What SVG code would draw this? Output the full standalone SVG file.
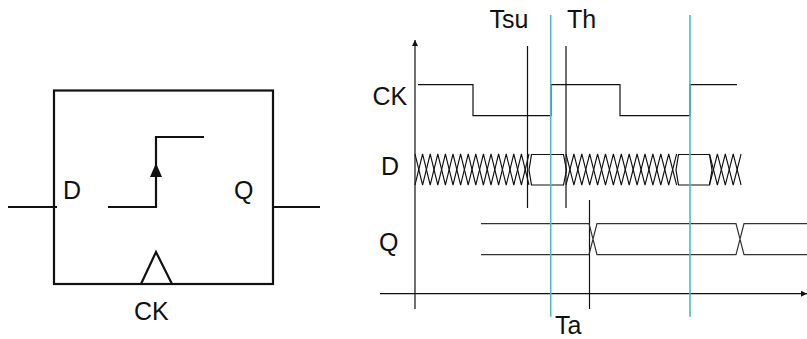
<svg xmlns="http://www.w3.org/2000/svg" width="807" height="339" viewBox="0 0 807 339">
<style>
text{font-family:"Liberation Sans",Arial,sans-serif;font-size:25px;fill:#111}
.b{fill:none;stroke:#111;stroke-width:2.2}
.t{fill:none;stroke:#111;stroke-width:1.2}
.z{fill:none;stroke:#111;stroke-width:1.1}
.q{fill:none;stroke:#333;stroke-width:1.2}
.c{fill:none;stroke:#4dbdbd;stroke-width:1.6}
</style>
<defs>
<marker id="ah" markerUnits="userSpaceOnUse" markerWidth="6" markerHeight="8" refX="6" refY="3" orient="auto"><path d="M0 0L6 3L0 6Z" fill="#111"/></marker>
</defs>
<g id="ff-box"><rect class="b" x="54" y="90.500" width="219" height="193.500"/><path class="b" d="M141 284L156 252L172 284"/></g>
<g id="ff-step"><path class="b" d="M108 207H156V137H204"/><path d="M156 163L162 177H150Z" fill="#111"/></g>
<g id="labels-left"><text x="63" y="199">D</text><text x="234" y="199">Q</text><text x="134" y="320">CK</text></g>
<g id="connectors">
<path class="b" d="M8 207H57M273 207H320"/>
<path class="t" marker-end="url(#ah)" d="M415 309V40"/>
<path class="t" marker-end="url(#ah)" d="M380 293.700H807"/>
<path class="t" d="M527.500 46V208M566 46V208M589.500 200V309"/>
</g>
<g id="ck-wave"><path class="t" d="M418 84.700H473V115.700H551V84.700H620V115.700H690V84.700H737"/></g>
<g id="d-wave">
<path class="z" d="M415 154l7.600 31 7.600-31 7.600 31 7.600-31 7.600 31 7.600-31 7.600 31 7.600-31 7.600 31 7.600-31 7.600 31 7.600-31 7.600 31 7.600-31 7.600 31"/>
<path class="z" d="M415 185l7.600-31 7.600 31 7.600-31 7.600 31 7.600-31 7.600 31 7.600-31 7.600 31 7.600-31 7.600 31 7.600-31 7.600 31 7.600-31 7.600 31 7.600-31"/>
<path class="z" d="M566 154l7.900 31 7.900-31 7.900 31 7.900-31 7.900 31 7.900-31 7.900 31 7.900-31 7.900 31 7.900-31 7.900 31 7.900-31 7.900 31 7.900-31"/>
<path class="z" d="M566 185l7.900-31 7.900 31 7.900-31 7.900 31 7.900-31 7.900 31 7.900-31 7.900 31 7.900-31 7.900 31 7.900-31 7.900 31 7.900-31 7.900 31"/>
<path class="z" d="M709.500 154l7.900 31 7.900-31 7.900 31 7.900-31"/>
<path class="z" d="M709.500 185l7.900-31 7.900 31 7.900-31 7.900 31"/>
<path class="t" d="M529 170L531.500 154.500H563.500L566.500 170L563.500 185H531.500L529 170M676 170L678.500 154.500H709.500L712 170L709.500 185H678.500L676 170"/>
</g>
<g id="q-wave"><path class="q" d="M481 223.700H589L597 254.700H736L744 223.700H807M481 254.700H589L597 223.700H736L744 254.700H807"/></g>
<g id="clock-lines"><path class="c" d="M550.700 15V316.700M690 15V316.700"/></g>
<g id="labels-right"><text x="489.500" y="27.500">Tsu</text><text x="567" y="27.500">Th</text><text x="372.500" y="105">CK</text><text x="381" y="175">D</text><text x="379" y="251">Q</text><text x="555" y="333.500">Ta</text></g>
</svg>
